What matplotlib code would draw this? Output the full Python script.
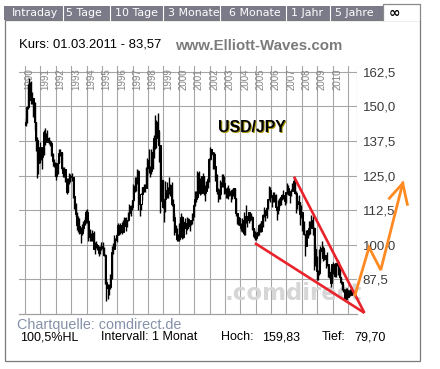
import numpy as np
import matplotlib
matplotlib.use("Agg")
import matplotlib.pyplot as plt
from matplotlib.patches import Rectangle
from matplotlib.lines import Line2D

# ---------------- data (USD/JPY monthly, Jan 1990 - Mar 2011) ----------------
start_year = 1990
first_open = 143.4
closes = [
    144.5, 149.8, 157.6, 158.5, 152.2, 152.9, 147.0, 144.3, 137.9, 129.5, 133.0, 135.4,  # 1990
    131.6, 132.8, 140.6, 137.0, 138.7, 138.3, 137.2, 136.8, 132.9, 130.4, 129.6, 124.9,  # 1991
    127.4, 129.6, 133.1, 133.5, 127.6, 125.9, 127.3, 123.4, 119.2, 123.1, 124.4, 124.6,  # 1992
    124.6, 117.5, 114.8, 111.2, 107.0, 106.6, 104.6, 104.3, 106.1, 108.1, 108.8, 111.9,  # 1993
    108.6, 104.1, 102.9, 101.9, 104.1, 98.6, 100.3, 100.0, 98.7, 97.1, 98.8, 99.7,       # 1994
    98.7, 96.3, 86.6, 84.5, 84.7, 84.6, 88.5, 97.4, 98.5, 102.0, 101.7, 103.5,           # 1995
    107.1, 104.6, 107.1, 104.6, 108.6, 109.7, 106.8, 108.8, 111.5, 114.0, 113.6, 116.0,  # 1996
    121.3, 120.5, 123.9, 126.8, 116.7, 114.6, 118.4, 120.9, 120.6, 120.5, 127.8, 130.6,  # 1997
    127.6, 126.7, 133.4, 132.5, 138.7, 138.6, 144.4, 141.4, 135.9, 115.9, 123.4, 113.6,  # 1998
    116.5, 119.2, 119.9, 119.6, 121.6, 121.3, 114.7, 110.0, 106.3, 104.5, 102.2, 102.2,  # 1999
    107.5, 110.2, 102.7, 108.1, 107.8, 106.2, 109.3, 106.6, 108.3, 108.9, 110.5, 114.4,  # 2000
    116.4, 117.4, 126.1, 123.6, 118.7, 124.7, 124.8, 118.8, 119.3, 122.4, 123.9, 131.0,  # 2001
    134.7, 133.5, 132.7, 128.5, 124.0, 119.5, 119.9, 118.4, 121.7, 122.5, 122.4, 118.8,  # 2002
    119.9, 118.1, 118.1, 119.0, 119.3, 119.8, 120.5, 116.9, 111.5, 109.9, 109.6, 107.2,  # 2003
    105.9, 109.1, 104.2, 110.4, 109.6, 108.8, 111.7, 109.2, 110.0, 105.9, 103.0, 102.6,  # 2004
    103.7, 104.6, 107.1, 104.8, 108.5, 110.9, 112.4, 110.7, 113.4, 116.4, 119.8, 118.0,  # 2005
    117.3, 116.2, 117.8, 113.8, 112.6, 114.4, 114.7, 117.4, 118.0, 116.9, 115.9, 119.1,  # 2006
    120.6, 118.6, 117.9, 119.6, 121.7, 123.2, 118.8, 115.8, 114.8, 115.3, 111.2, 111.7,  # 2007
    106.4, 103.9, 99.7, 104.0, 105.5, 106.2, 108.0, 108.8, 106.0, 98.5, 95.4, 90.7,      # 2008
    89.9, 97.6, 98.3, 98.8, 95.4, 96.4, 94.7, 93.0, 89.8, 90.0, 86.3, 93.0,              # 2009
    90.3, 88.9, 93.4, 93.9, 91.2, 88.4, 86.4, 84.2, 83.5, 80.4, 83.6, 81.1,              # 2010
    82.0, 81.8, 83.6,                                                                    # 2011
]
highs = [
    145.9, 150.0, 158.2, 160.3, 159.0, 155.2, 152.5, 151.6, 144.5, 139.0, 133.5, 137.0,
    134.5, 133.5, 141.5, 142.0, 140.3, 141.5, 139.0, 138.0, 137.5, 133.0, 131.0, 129.8,
    127.8, 130.5, 134.5, 134.7, 133.5, 128.0, 128.2, 127.5, 124.2, 124.0, 125.8, 125.4,
    125.8, 124.5, 118.0, 115.0, 112.0, 110.5, 109.5, 106.5, 107.5, 108.5, 110.0, 112.5,
    113.0, 109.0, 105.6, 104.3, 105.2, 105.0, 100.9, 101.5, 99.8, 99.5, 99.6, 101.0,
    100.9, 99.3, 96.5, 87.5, 86.0, 86.0, 89.5, 99.7, 100.5, 103.5, 102.5, 104.1,
    107.9, 107.3, 107.8, 108.2, 109.0, 109.9, 110.0, 109.0, 111.8, 114.8, 114.5, 116.0,
    121.8, 124.6, 124.5, 127.5, 127.0, 117.0, 118.8, 121.0, 122.0, 122.0, 128.0, 131.3,
    134.5, 128.5, 134.5, 135.5, 139.5, 146.8, 145.0, 147.6, 141.0, 136.0, 125.0, 123.5,
    116.5, 123.0, 122.5, 121.0, 124.5, 122.0, 122.5, 116.5, 111.5, 107.0, 106.0, 104.0,
    107.7, 111.3, 110.5, 108.5, 109.5, 108.0, 110.0, 109.5, 108.5, 109.0, 111.5, 114.8,
    119.5, 119.5, 126.5, 126.5, 124.0, 125.0, 126.0, 125.0, 121.5, 123.0, 124.5, 131.5,
    135.2, 134.5, 133.5, 133.5, 128.5, 125.5, 120.5, 120.0, 123.5, 125.5, 125.5, 125.0,
    120.5, 121.0, 121.5, 120.5, 119.5, 120.0, 120.5, 120.5, 117.0, 111.5, 110.5, 109.8,
    107.8, 109.5, 112.0, 110.5, 114.5, 110.5, 112.0, 111.5, 111.5, 110.5, 106.0, 105.0,
    104.5, 106.0, 107.5, 108.0, 108.6, 111.0, 113.5, 112.0, 113.5, 116.5, 121.4, 121.0,
    117.5, 119.0, 119.0, 118.5, 114.0, 116.0, 117.0, 117.5, 118.5, 119.9, 118.0, 119.1,
    122.2, 121.5, 118.5, 120.0, 122.2, 124.1, 123.0, 119.5, 117.5, 117.9, 115.5, 114.5,
    109.5, 108.5, 104.0, 105.5, 105.5, 108.5, 108.5, 110.7, 110.5, 106.5, 99.5, 96.0,
    91.0, 98.5, 99.7, 101.4, 99.5, 98.5, 96.0, 97.5, 93.0, 92.0, 91.0, 93.0,
    93.8, 91.5, 93.5, 95.0, 94.5, 92.0, 88.5, 87.0, 86.0, 84.0, 84.4, 84.5,
    83.7, 84.0, 83.7,
]
lows = [
    143.0, 144.0, 149.0, 154.0, 151.0, 151.0, 146.0, 141.5, 134.0, 124.2, 125.5, 129.5,
    130.5, 127.5, 132.5, 136.0, 137.0, 137.5, 136.5, 135.5, 132.0, 128.5, 128.0, 124.8,
    123.5, 125.5, 129.5, 132.0, 127.0, 124.5, 124.5, 122.5, 118.5, 119.0, 122.0, 122.5,
    123.0, 117.0, 113.0, 110.0, 105.5, 104.5, 104.0, 100.6, 103.5, 105.0, 107.0, 107.8,
    108.0, 101.5, 101.5, 101.2, 101.5, 98.5, 96.6, 99.0, 98.0, 96.1, 96.5, 98.2,
    98.0, 96.0, 86.0, 79.7, 80.5, 82.0, 84.0, 87.5, 96.5, 98.5, 99.5, 101.0,
    103.5, 103.7, 104.0, 104.0, 104.5, 107.5, 105.0, 106.5, 108.5, 110.5, 110.5, 112.5,
    115.5, 119.0, 119.5, 122.0, 112.5, 110.5, 112.5, 116.0, 119.0, 119.0, 121.0, 125.0,
    125.8, 124.5, 125.5, 127.5, 131.5, 134.5, 135.0, 138.0, 130.0, 111.6, 116.0, 113.3,
    108.3, 112.0, 117.0, 117.0, 118.5, 117.5, 114.0, 108.5, 103.5, 103.7, 101.5, 101.3,
    101.5, 106.5, 102.0, 102.5, 106.0, 104.0, 105.5, 106.0, 105.0, 107.0, 107.5, 110.0,
    114.0, 115.5, 117.0, 121.0, 118.0, 118.5, 123.0, 118.0, 115.8, 119.5, 120.5, 122.5,
    130.5, 132.0, 127.5, 127.5, 123.0, 118.5, 115.5, 116.5, 116.5, 121.0, 121.0, 118.5,
    117.0, 117.0, 116.5, 117.5, 115.5, 116.5, 117.5, 116.5, 110.5, 107.5, 107.0, 106.7,
    105.0, 104.5, 103.4, 103.5, 108.0, 106.5, 108.0, 108.5, 109.0, 105.5, 102.5, 101.8,
    101.7, 103.0, 103.5, 104.5, 104.5, 106.5, 110.0, 108.5, 109.8, 113.0, 116.0, 115.5,
    113.5, 115.5, 115.5, 113.5, 109.0, 111.0, 113.5, 114.5, 116.0, 116.5, 114.5, 115.0,
    118.5, 118.0, 115.2, 117.5, 119.5, 121.0, 118.5, 111.6, 113.0, 112.5, 107.2, 109.5,
    105.0, 103.5, 95.8, 99.5, 102.5, 103.5, 104.0, 107.0, 103.5, 90.9, 92.5, 87.1,
    87.1, 89.0, 93.5, 96.5, 94.0, 94.5, 91.5, 92.5, 88.5, 88.0, 84.8, 86.5,
    89.5, 88.5, 88.5, 92.5, 89.0, 88.0, 86.0, 83.5, 82.8, 80.2, 80.2, 80.8,
    81.5, 81.6, 83.3,
]
year_labels = list(range(1990, 2011))
grid_years = list(range(1990, 2012))
y_ticks = [87.5, 100.0, 112.5, 125.0, 137.5, 150.0, 162.5]

# drawn trend lines (wedge) and forecast arrow, in (year, price)
wedge_lower_x = [2004.95, 2012.07]
wedge_lower_y = [100.6, 75.4]
wedge_upper_x = [2007.49, 2012.07]
wedge_upper_y = [124.6, 75.4]
forecast_x = [2011.46, 2012.37, 2013.13, 2014.56]
forecast_y = [81.9, 99.1, 90.9, 122.2]
arrowhead_x = [2013.69, 2014.56, 2014.86]
arrowhead_y = [116.8, 122.2, 114.6]

tabs = ["Intraday", "5 Tage", "10 Tage", "3 Monate", "6 Monate", "1 Jahr", "5 Jahre"]

# ---------------- figure ----------------
W, H = 440, 369
fig = plt.figure(figsize=(W / 100, H / 100), dpi=100)
fig.patch.set_facecolor("white")

def fx(x):
    return x / W

def fy(y):
    return 1 - y / H

# outer panel border
fig.add_artist(Rectangle((fx(4.5), fy(360.5)), (420 - 4.5) / W, (360.5 - 20) / H,
                         transform=fig.transFigure, fill=False, edgecolor="#7a7a7a", lw=0.9))
# tab bar
fig.add_artist(Rectangle((fx(4), fy(20)), (382.5 - 4) / W, 14 / H,
                         transform=fig.transFigure, facecolor="#7b7a88", edgecolor="none"))
# active tab (white)
fig.add_artist(Rectangle((fx(382.5), fy(20.5)), (420 - 382.5) / W, 17.5 / H,
                         transform=fig.transFigure, facecolor="white", edgecolor="none", zorder=3))
fig.add_artist(Line2D([fx(382.5), fx(382.5), fx(420), fx(420)], [fy(20), fy(3.5), fy(3.5), fy(20)],
                      transform=fig.transFigure, color="#8a8a8a", lw=0.9, zorder=4))
tab_x = [11.5, 66.5, 115, 168, 229, 291, 335]
sep_x = [63.3, 110, 162.7, 220, 286, 330]
for t, x in zip(tabs, tab_x):
    fig.text(fx(x), fy(13.3), t, color="white", fontsize=7.9, family="DejaVu Sans",
             ha="left", va="center")
for x in sep_x:
    fig.add_artist(Line2D([fx(x), fx(x)], [fy(6), fy(20)], transform=fig.transFigure,
                          color="white", lw=0.8))
fig.text(fx(394), fy(12.5), "\u221e", color="black", fontsize=10, fontweight="bold",
         family="DejaVu Sans", ha="center", va="center", zorder=5)

# header texts
fig.text(fx(19), fy(44.5), "Kurs: 01.03.2011 - 83,57", fontsize=9.4,
         family="Liberation Sans", color="black", ha="left", va="center")
fig.text(fx(175), fy(46), "www.Elliott-Waves.com", fontsize=10.8, fontweight="bold",
         family="Liberation Sans", color="#7b7b7b", ha="left", va="center")

# ---------------- chart axes ----------------
px_per_year = 15.38
px_per_unit = 2.769
x0 = 1990 + (19 - 25) / px_per_year
x1 = 1990 + (357 - 25) / px_per_year
y0 = 75.0
y1 = 75.0 + (314 - 66) / px_per_unit

ax = fig.add_axes([fx(19), fy(314), (357 - 19) / W, (314 - 66) / H])
ax.set_xlim(x0, x1)
ax.set_ylim(y0, y1)
ax.set_facecolor("none")
for s in ["top", "left", "right"]:
    ax.spines[s].set_visible(False)
ax.spines["bottom"].set_color("#a0a0a0")
ax.spines["bottom"].set_linewidth(0.9)

grid_kw = dict(color="#a6a6a6", lw=0.8, zorder=1)
for gx in grid_years + [x1]:
    ax.axvline(gx, **grid_kw)
for gy in y_ticks:
    ax.axhline(gy, **grid_kw)

ax.set_xticks([])
ax.yaxis.tick_right()
ax.set_yticks(y_ticks)
ax.set_yticklabels([f"{v:.1f}".replace(".", ",") for v in y_ticks],
                   fontsize=9.5, family="Liberation Sans", color="#3a3a3a")
ax.tick_params(axis="y", length=0, pad=4)

# year labels
for yr in year_labels:
    ax.text(yr + 0.31, 0.948, str(yr), transform=ax.get_xaxis_transform(), rotation=90,
            fontsize=7, family="Liberation Sans", color="#858585", ha="center", va="center",
            zorder=1.5)

# watermark
ax.text((225 - 19) / (357 - 19), (314 - 300) / (314 - 66), ".comdirect",
        transform=ax.transAxes, fontsize=16.5, fontweight="bold", family="DejaVu Sans",
        color="#d6d6d6", ha="left", va="baseline", zorder=1.6)

# candles
n = len(closes)
t = np.array([start_year + i / 12 + 0.5 / 12 for i in range(n)])
c = np.array(closes)
o = np.array([first_open] + closes[:-1])
hi = np.array(highs)
lo = np.array(lows)
ax.vlines(t, lo, hi, color="black", lw=1.0, zorder=3)
up = c >= o
bottom = np.minimum(o, c)
height = np.maximum(np.abs(c - o), 0.3)
ax.bar(t[up], height[up], bottom=bottom[up], width=0.8 / 12, color="white",
       edgecolor="black", lw=0.75, zorder=4)
ax.bar(t[~up], height[~up], bottom=bottom[~up], width=0.8 / 12, color="black",
       edgecolor="black", lw=0.75, zorder=4)

# title inside chart
ax.text((252 - 19) / (357 - 19) + 0.002, (314 - 128) / (314 - 66) - 0.003, "USD/JPY",
        transform=ax.transAxes, fontsize=11.4, fontweight="bold", family="Liberation Sans",
        color="#a89400", ha="center", va="center", zorder=5)
ax.text((252 - 19) / (357 - 19), (314 - 128) / (314 - 66), "USD/JPY",
        transform=ax.transAxes, fontsize=11.4, fontweight="bold", family="Liberation Sans",
        color="black", ha="center", va="center", zorder=5)

# wedge and forecast
red = "#e8232b"
ax.plot(wedge_lower_x, wedge_lower_y, color=red, lw=1.9, clip_on=False, zorder=6,
        solid_capstyle="butt")
ax.plot(wedge_upper_x, wedge_upper_y, color=red, lw=1.9, clip_on=False, zorder=6,
        solid_capstyle="butt")
orange = "#ff8a22"
ax.plot(forecast_x, forecast_y, color=orange, lw=2.0, clip_on=False, zorder=7,
        solid_joinstyle="miter")
ax.plot(arrowhead_x, arrowhead_y, color=orange, lw=2.0, clip_on=False, zorder=7,
        solid_joinstyle="miter")

# footer texts
fig.text(fx(17), fy(325.5), "Chartquelle: comdirect.de", fontsize=10.4,
         family="Liberation Sans", color="#8591a8", ha="left", va="center")
foot_kw = dict(fontsize=9, family="Liberation Sans", color="black", ha="left", va="center")
fig.text(fx(20), fy(337.5), "100,5%HL", **foot_kw)
fig.text(fx(101), fy(337.5), "Intervall: 1 Monat", **foot_kw)
fig.text(fx(221), fy(337.5), "Hoch:", **foot_kw)
fig.text(fx(262), fy(337.5), "159,83", **foot_kw)
fig.text(fx(322), fy(337.5), "Tief:", **foot_kw)
fig.text(fx(354), fy(337.5), "79,70", **foot_kw)

fig.savefig("out.png", dpi=100)
